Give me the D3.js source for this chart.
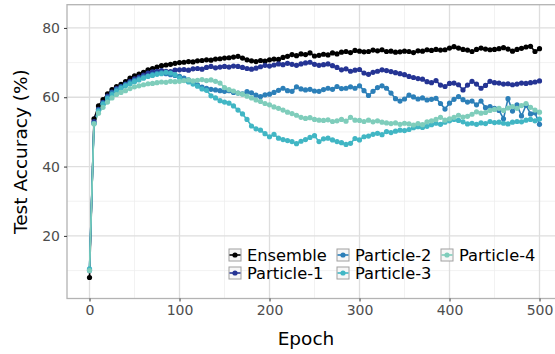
<!doctype html>
<html>
  <head>
    <meta charset="utf-8">
    <title>Test accuracy</title>
    <script src="https://cdn.jsdelivr.net/npm/d3@7"></script>
    <style>
      body { margin: 0; background: #fff; }
      text { font-family: "DejaVu Sans", sans-serif; }
    </style>
  </head>
  <body>
    <script>
      const width = 555;
      const height = 354;

      // epochs are evaluated every 5 epochs
      const epochs = d3.range(0, 501, 5);
      const seriesNames = ['Ensemble', 'Particle-1', 'Particle-2', 'Particle-3', 'Particle-4'];
      const seriesColors = ['#000000', '#253494', '#2c7fb8', '#41b6c4', '#7fcdbb'];
      const xTicks = [0, 100, 200, 300, 400, 500];
      const yTicks = [20, 40, 60, 80];

      const ensemble = [
        8.0, 53.8, 57.5, 59.3, 61.0, 62.2, 63.1, 63.7, 64.5, 65.5,
        66.2, 66.7, 67.2, 67.9, 68.3, 68.7, 69.1, 69.3, 69.5, 69.8,
        70.0, 70.1, 70.3, 70.2, 70.5, 70.6, 70.8, 70.7, 71.0, 71.1,
        71.3, 71.4, 71.6, 71.8, 71.3, 70.8, 70.5, 70.3, 70.6, 70.4,
        70.8, 71.0, 70.9, 71.5, 71.8, 72.3, 72.0, 72.5, 72.3, 72.8,
        71.9, 72.1, 72.4, 72.2, 72.8, 72.5, 73.0, 73.2, 72.9, 73.5,
        73.3, 73.1, 73.2, 73.6, 73.4, 73.7, 73.2, 73.3, 73.0, 73.1,
        73.3, 73.2, 72.9, 73.4, 73.3, 73.7, 73.5, 73.8, 73.6, 73.7,
        74.2, 74.6, 74.2, 73.8, 73.6, 73.2, 73.8, 74.2, 73.9, 73.7,
        73.8, 74.0, 74.3, 73.9, 73.3, 73.8, 74.1, 74.5, 74.7, 73.2,
        74.0
      ];
      const particle1 = [
        10.2, 53.0, 56.5, 58.5, 60.3, 61.5, 62.5, 63.1, 63.8, 64.6,
        65.3, 65.8, 66.4, 67.0, 67.3, 67.5, 67.7, 67.5, 67.4, 67.8,
        67.9, 68.0, 67.8, 68.2, 68.3, 68.1, 68.6, 68.9, 68.5, 68.7,
        68.9, 68.7, 69.0, 68.9, 68.6, 68.3, 68.1, 68.4, 68.8, 69.2,
        69.0, 69.3, 69.6, 69.4, 69.8, 69.5, 69.2, 69.6, 69.9, 70.1,
        69.5, 69.2, 69.4, 69.6, 69.1, 68.6, 67.9, 68.2, 67.5, 67.8,
        68.0, 67.0, 66.6, 67.2, 67.5, 67.9, 67.7, 67.4, 67.1, 66.8,
        66.5, 66.0, 65.7, 65.4, 65.2, 64.5, 64.2, 64.8, 63.5, 63.1,
        64.0, 64.1, 63.6, 62.1, 63.5, 64.6, 63.8, 62.6, 63.4, 64.6,
        64.2, 64.1, 63.8, 63.9, 63.6, 63.8, 64.1, 64.0, 64.2, 64.4,
        64.7
      ];
      const particle2 = [
        10.0, 52.5, 56.3, 58.3, 60.0, 61.3, 62.2, 62.9, 63.6, 64.2,
        64.9, 65.4, 65.9, 66.2, 66.6, 66.9, 67.1, 66.8, 66.5, 66.3,
        66.0, 65.5, 65.0, 64.4, 63.6, 62.9, 62.6, 62.3, 62.1, 61.9,
        61.7, 61.9, 61.4, 61.2, 61.0, 61.6, 61.3, 60.6, 60.2, 60.7,
        60.9, 61.4, 62.0, 62.6, 61.9, 61.7, 63.0, 62.4, 62.1, 62.3,
        61.8, 61.7, 62.2, 62.6, 62.3, 63.1, 62.5, 62.6, 63.0, 62.6,
        63.3, 61.9, 60.5, 61.7, 62.8, 63.3, 62.6, 61.2, 59.6, 58.9,
        59.5, 60.6, 60.1, 59.5, 59.8, 59.2, 59.4, 59.7, 58.2, 56.6,
        58.3, 59.4, 60.2, 59.3, 58.6, 58.9, 57.8, 58.9, 57.0, 57.3,
        56.8, 56.2, 53.8, 59.6, 56.0, 57.8, 54.6, 57.7, 55.2, 55.5,
        52.2
      ];
      const particle3 = [
        10.5, 52.4, 56.0, 58.0, 59.6, 60.8, 61.8, 62.6, 63.3, 63.9,
        64.5, 65.0, 65.5, 66.0, 66.3, 66.6, 66.8, 67.2, 67.0, 66.5,
        65.6, 64.9, 64.4, 63.8, 63.2, 62.4, 62.0, 60.4, 59.8, 59.0,
        58.6, 58.3, 57.5, 56.3, 55.2, 53.6, 51.7, 50.9, 50.5, 49.5,
        48.6, 49.3, 48.2, 47.8, 47.5, 47.2, 46.6, 47.3, 47.8, 48.4,
        48.9, 47.2, 48.0, 48.2, 47.7, 47.2, 46.9, 46.4, 46.7, 48.1,
        47.7, 48.6, 48.8, 49.3, 49.6, 49.2, 50.1, 49.8, 50.2, 50.5,
        50.4, 50.7, 51.2, 51.5, 51.3, 51.6, 52.1, 52.5, 52.2, 52.8,
        53.2, 53.6, 53.3, 52.9, 52.3, 52.5, 52.2, 52.6, 52.4, 53.0,
        52.7, 52.8, 52.5, 52.3, 52.8, 53.0, 52.9, 53.4, 53.6, 53.2,
        53.7
      ];
      const particle4 = [
        10.0, 52.3, 55.4, 57.1, 58.6, 59.8, 60.8, 61.4, 61.9, 62.5,
        63.0, 63.3, 63.6, 63.9, 64.0, 64.2, 64.4, 64.3, 64.6, 64.5,
        64.6, 64.8, 65.0, 64.7, 64.9, 65.1, 64.8, 65.0, 64.6, 64.1,
        62.8, 62.2, 61.8, 61.2, 60.9, 60.3, 59.8, 59.2, 58.8, 58.2,
        57.8, 57.2, 56.8, 56.3, 55.7, 55.3, 54.8, 54.2, 53.9, 54.1,
        53.6, 53.4, 53.3, 53.5, 53.0, 53.2, 53.6, 53.1, 54.2, 53.4,
        53.3, 53.0, 53.4, 52.9, 53.2, 52.8, 52.6, 52.4, 52.6, 52.2,
        52.5, 52.3, 52.0, 52.4, 52.1, 52.9, 53.2, 53.6, 54.2, 53.4,
        53.8, 54.2, 54.8, 54.3, 54.5, 55.1, 55.8, 55.4, 55.6, 56.2,
        56.5, 56.8, 56.2, 56.9, 57.3, 56.8, 57.6, 58.2, 57.1, 56.3,
        55.7
      ];
      const seriesValues = [ensemble, particle1, particle2, particle3, particle4];

      // panel (the right border falls just outside the picture)
      const panel = { left: 67, right: 562, top: 4.7, bottom: 298.5 };

      const x = d3.scaleLinear().domain([-25, 525]).range([panel.left, panel.right]);
      const y = d3.scaleLinear().domain([1.94, 86.7]).range([panel.bottom, panel.top]);

      const svg = d3.select('body').append('svg')
          .attr('width', width)
          .attr('height', height);

      svg.append('rect')
          .attr('width', width).attr('height', height)
          .attr('fill', '#fff');

      const gridG = svg.append('g');

      // minor grid
      gridG.selectAll('.minor-x')
        .data([50, 150, 250, 350, 450])
        .enter().append('line')
          .attr('x1', d => x(d)).attr('x2', d => x(d))
          .attr('y1', panel.top).attr('y2', panel.bottom)
          .attr('stroke', '#ececec').attr('stroke-width', 0.7);
      gridG.selectAll('.minor-y')
        .data([10, 30, 50, 70])
        .enter().append('line')
          .attr('x1', panel.left).attr('x2', panel.right)
          .attr('y1', d => y(d)).attr('y2', d => y(d))
          .attr('stroke', '#ececec').attr('stroke-width', 0.7);

      // major grid
      gridG.selectAll('.major-x')
        .data(xTicks)
        .enter().append('line')
          .attr('x1', d => x(d)).attr('x2', d => x(d))
          .attr('y1', panel.top).attr('y2', panel.bottom)
          .attr('stroke', '#dedede').attr('stroke-width', 1.3);
      gridG.selectAll('.major-y')
        .data(yTicks)
        .enter().append('line')
          .attr('x1', panel.left).attr('x2', panel.right)
          .attr('y1', d => y(d)).attr('y2', d => y(d))
          .attr('stroke', '#dedede').attr('stroke-width', 1.3);

      // lines first, then points (as ggplot layers)
      const line = d3.line()
          .x((d, i) => x(epochs[i]))
          .y(d => y(d));

      svg.append('g')
        .selectAll('path')
        .data(seriesValues)
        .enter().append('path')
          .attr('d', line)
          .attr('fill', 'none')
          .attr('stroke', (d, i) => seriesColors[i])
          .attr('stroke-width', 1.6)
          .attr('stroke-linejoin', 'round');

      seriesValues.forEach((vals, s) => {
        svg.append('g')
          .selectAll('circle')
          .data(vals)
          .enter().append('circle')
            .attr('cx', (d, i) => x(epochs[i]))
            .attr('cy', d => y(d))
            .attr('r', 2.6)
            .attr('fill', seriesColors[s]);
      });

      // panel border
      svg.append('rect')
          .attr('x', panel.left).attr('y', panel.top)
          .attr('width', panel.right - panel.left)
          .attr('height', panel.bottom - panel.top)
          .attr('fill', 'none')
          .attr('stroke', '#b3b3b3')
          .attr('stroke-width', 1.3);

      // axes
      const xAxis = svg.append('g')
          .attr('transform', `translate(0,${panel.bottom})`)
          .call(d3.axisBottom(x).tickValues(xTicks).tickSize(3).tickPadding(4));
      const yAxis = svg.append('g')
          .attr('transform', `translate(${panel.left},0)`)
          .call(d3.axisLeft(y).tickValues(yTicks).tickSize(3).tickPadding(4));

      [xAxis, yAxis].forEach(ax => {
        ax.select('.domain').remove();
        ax.selectAll('.tick line').attr('stroke', '#333').attr('stroke-width', 1);
        ax.selectAll('.tick text')
          .attr('fill', '#4d4d4d')
          .style('font-size', '14px')
          .style('font-family', '"DejaVu Sans", sans-serif');
      });

      // axis titles
      svg.append('text')
          .attr('x', 306).attr('y', 345)
          .attr('text-anchor', 'middle')
          .style('font-size', '18.5px')
          .attr('fill', '#000')
          .text('Epoch');
      svg.append('text')
          .attr('transform', `translate(27,${(panel.top + panel.bottom) / 2}) rotate(-90)`)
          .attr('text-anchor', 'middle')
          .style('font-size', '18.5px')
          .attr('fill', '#000')
          .text('Test Accuracy (%)');

      // legend, 2 rows filled by column
      const legendCols = [229, 337, 441];
      const legendRows = [255, 273];
      const legend = svg.append('g')
        .selectAll('g')
        .data(seriesNames)
        .enter().append('g')
          .attr('transform', (d, i) =>
            `translate(${legendCols[Math.floor(i / 2)]},${legendRows[i % 2]})`);

      legend.append('rect')
          .attr('x', 0).attr('y', -6)
          .attr('width', 12).attr('height', 12)
          .attr('fill', '#f7f7f7')
          .attr('stroke', '#a0a0a0')
          .attr('stroke-width', 1);
      legend.append('line')
          .attr('x1', 0.5).attr('x2', 11.5)
          .attr('y1', 0).attr('y2', 0)
          .attr('stroke', (d, i) => seriesColors[i])
          .attr('stroke-width', 1.6);
      legend.append('circle')
          .attr('cx', 6).attr('cy', 0).attr('r', 2.6)
          .attr('fill', (d, i) => seriesColors[i]);
      legend.append('text')
          .attr('x', 18).attr('y', 0)
          .attr('dy', '0.35em')
          .style('font-size', '16.3px')
          .attr('fill', '#000')
          .text(d => d);
    </script>
  </body>
</html>
